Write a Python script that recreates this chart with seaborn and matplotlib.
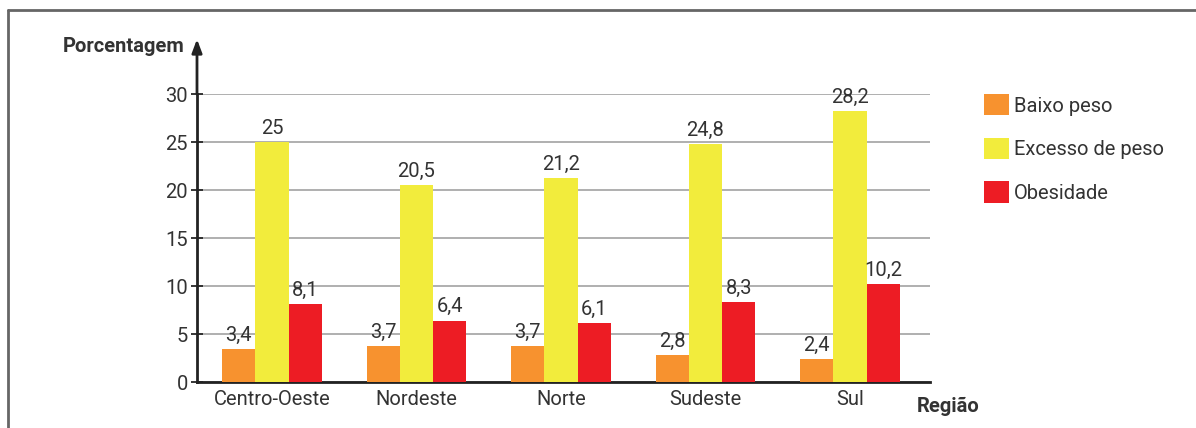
import pandas as pd
import seaborn as sns
import matplotlib.pyplot as plt
from matplotlib.patches import Patch
from matplotlib.lines import Line2D

regioes = ["Centro-Oeste", "Nordeste", "Norte", "Sudeste", "Sul"]
baixo_peso = [3.4, 3.7, 3.7, 2.8, 2.4]
excesso_peso = [25, 20.5, 21.2, 24.8, 28.2]
obesidade = [8.1, 6.4, 6.1, 8.3, 10.2]
series = ["Baixo peso", "Excesso de peso", "Obesidade"]
cores = ["#F7922F", "#F2EC3C", "#ED1C24"]
yticks = [0, 5, 10, 15, 20, 25, 30]

df = pd.DataFrame({
    "Região": regioes * 3,
    "Porcentagem": baixo_peso + excesso_peso + obesidade,
    "Grupo": [s for s in series for _ in regioes],
})

sns.set_style("white")
plt.rcParams['font.family'] = ['Roboto', 'DejaVu Sans']
txt = "#333333"
fs = 14.5

fig = plt.figure(figsize=(11.96, 4.28), dpi=100)
ax = fig.add_axes([197 / 1196, 46 / 428, (930 - 197) / 1196, (382 - 94) / 428])

sns.barplot(data=df, x="Região", y="Porcentagem", hue="Grupo", hue_order=series,
            order=regioes, palette=cores, width=0.69, saturation=1, ax=ax,
            zorder=3, legend=False, linewidth=0, edgecolor="none")

for cont in ax.containers:
    ax.bar_label(cont, labels=[f"{v:g}".replace(".", ",") for v in cont.datavalues],
                 padding=3, fontsize=fs, color=txt)

ax.set_ylim(0, 30)
ax.set_xlim(-0.519, 4.554)
ax.set_yticks(yticks)
ax.yaxis.grid(True, color="#9a9a9a", linewidth=1.1, zorder=0)
ax.set_axisbelow(True)
ax.tick_params(axis="y", direction="inout", length=9, width=1.3, labelsize=fs,
               labelcolor=txt, pad=2, left=True)
ax.tick_params(axis="x", length=0, labelsize=fs, labelcolor=txt, pad=6)
ax.set_xlabel("")
ax.set_ylabel("")
for s in ["top", "right"]:
    ax.spines[s].set_visible(False)
for s in ["left", "bottom"]:
    ax.spines[s].set_color("#222222")
    ax.spines[s].set_linewidth(2)

# seta do eixo y
ax.annotate("", xy=(0, 1.2), xycoords="axes fraction", xytext=(0, 0.99),
            arrowprops=dict(arrowstyle="-|>,head_length=0.8,head_width=0.3",
                            color="#222222", lw=2), annotation_clip=False)

fig.text(185 / 1196, 1 - 46 / 428, "Porcentagem", ha="right", va="center",
         fontsize=fs, fontweight="bold", color=txt)
fig.text(917 / 1196, 1 - 406 / 428, "Região", ha="left", va="center",
         fontsize=fs, fontweight="bold", color=txt)

handles = [Patch(facecolor=c, edgecolor="none") for c in cores]
fig.legend(handles, series, loc="upper left", bbox_to_anchor=(966 / 1196, 1 - 76 / 428),
           frameon=False, fontsize=fs, handlelength=1.25, handleheight=1.25,
           handletextpad=0.25, labelspacing=1.1, labelcolor=txt)

# moldura
fig.add_artist(Line2D([8 / 1196, 8 / 1196], [0, 1 - 10 / 428], color="#666666", lw=2))
fig.add_artist(Line2D([8 / 1196, 1], [1 - 10 / 428, 1 - 10 / 428], color="#666666", lw=2))

fig.savefig("out.png", dpi=100)
